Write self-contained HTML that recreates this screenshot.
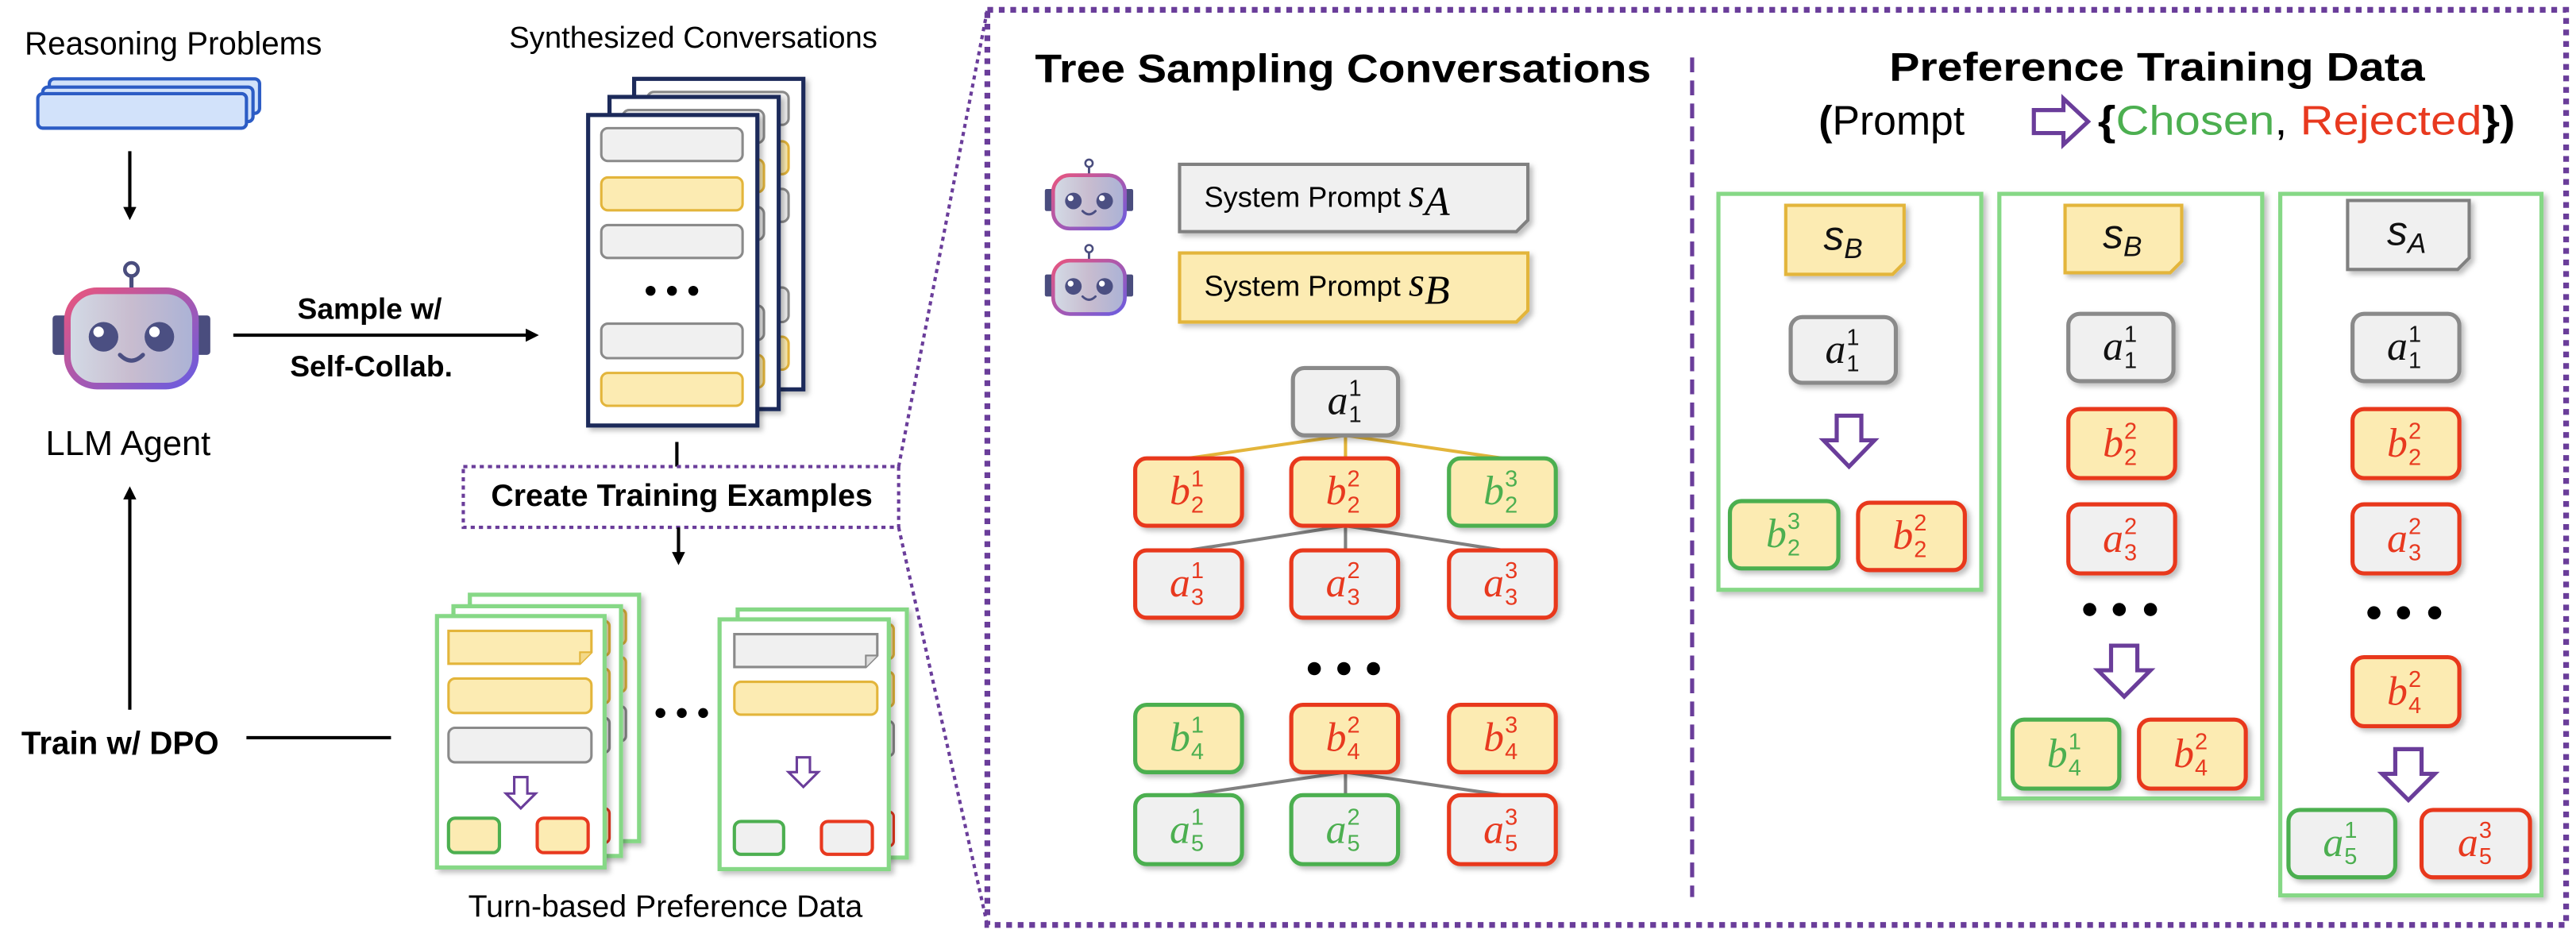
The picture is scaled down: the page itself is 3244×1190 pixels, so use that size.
<!DOCTYPE html>
<html><head><meta charset="utf-8"><style>
html,body{margin:0;padding:0;background:#fff;width:3244px;height:1190px;overflow:hidden}
svg{display:block}
text{font-family:"Liberation Sans",sans-serif}
.m{font-family:"Liberation Serif",serif;font-style:italic;font-size:25px}
.s{font-family:"Liberation Sans",sans-serif;font-size:14px}
</style></head><body>
<svg width="3244" height="1190" viewBox="0 0 1568 575.2" xmlns="http://www.w3.org/2000/svg">
<defs>
<filter id="sh" x="-20%" y="-20%" width="150%" height="150%"><feDropShadow dx="2" dy="2" stdDeviation="1.5" flood-color="#000" flood-opacity="0.25"/></filter>
<linearGradient id="fb" x1="0" x2="1" y1="0" y2="0"><stop offset="0" stop-color="#d3dbe6"/><stop offset="0.5" stop-color="#c8bccf"/><stop offset="1" stop-color="#aab2d6"/></linearGradient>
<linearGradient id="bb" x1="0" x2="1" y1="0" y2="1"><stop offset="0" stop-color="#e8557e"/><stop offset="1" stop-color="#6a5ce0"/></linearGradient>
<marker id="ah" markerWidth="8" markerHeight="8" refX="6" refY="4" orient="auto" markerUnits="userSpaceOnUse"><path d="M0,0 L8,4 L0,8 Z" fill="#000"/></marker>
<g id="robot">
<rect x="0" y="34" width="10" height="24" rx="2" fill="#4a4d7e"/>
<rect x="86" y="34" width="10" height="24" rx="2" fill="#4a4d7e"/>
<line x1="48" y1="10" x2="48" y2="19" stroke="#4a4d7e" stroke-width="2.5"/>
<circle cx="48" cy="6" r="4" fill="#fff" stroke="#4a4d7e" stroke-width="2.2"/>
<rect x="9" y="19" width="78" height="58" rx="18" fill="url(#fb)" stroke="url(#bb)" stroke-width="4"/>
<circle cx="31" cy="47" r="9" fill="#4b4f82"/><circle cx="28" cy="44" r="3.2" fill="#fff"/>
<circle cx="65" cy="47" r="9" fill="#4b4f82"/><circle cx="62" cy="44" r="3.2" fill="#fff"/>
<path d="M41,58 Q48,65 55,58" fill="none" stroke="#4b4f82" stroke-width="2.5" stroke-linecap="round"/>
</g>
</defs>

<!-- LEFT -->
<text x="15" y="33" font-size="19.5">Reasoning Problems</text>
<rect x="30" y="48" width="128" height="21" rx="3" fill="#d2e2fa" stroke="#2c5cc5" stroke-width="2"/>
<rect x="26" y="53" width="128" height="21" rx="3" fill="#d2e2fa" stroke="#2c5cc5" stroke-width="2"/>
<rect x="23" y="57" width="127" height="21" rx="3" fill="#d2e2fa" stroke="#2c5cc5" stroke-width="2"/>
<line x1="79" y1="92" x2="79" y2="132" stroke="#000" stroke-width="2" marker-end="url(#ah)"/>
<use href="#robot" transform="translate(32,158)"/>
<text x="78" y="277" font-size="21" text-anchor="middle">LLM Agent</text>
<line x1="79" y1="432" x2="79" y2="298" stroke="#000" stroke-width="2" marker-end="url(#ah)"/>
<text x="13" y="459" font-size="19.5" font-weight="bold">Train w/ DPO</text>
<line x1="150" y1="449" x2="238" y2="449" stroke="#000" stroke-width="2"/>
<text x="225" y="194" font-size="18" font-weight="bold" text-anchor="middle">Sample w/</text>
<text x="226" y="229" font-size="18" font-weight="bold" text-anchor="middle">Self-Collab.</text>
<line x1="142" y1="204" x2="326" y2="204" stroke="#000" stroke-width="2" marker-end="url(#ah)"/>
<text x="422" y="29" font-size="18.5" text-anchor="middle">Synthesized Conversations</text>

<!-- synth doc stack -->
<rect x="386" y="48" width="103" height="189" fill="#fff" stroke="#1c2a5a" stroke-width="2.5" filter="url(#sh)"/>
<g transform="translate(28,-22)">
<rect x="366" y="78" width="86" height="20" rx="4" fill="#f0f0f0" stroke="#8a8a8a" stroke-width="1.5"/>
<rect x="366" y="108" width="86" height="20" rx="4" fill="#fcebb2" stroke="#e3b53b" stroke-width="1.5"/>
<rect x="366" y="137" width="86" height="20" rx="4" fill="#f0f0f0" stroke="#8a8a8a" stroke-width="1.5"/>
<rect x="366" y="197" width="86" height="21" rx="4" fill="#f0f0f0" stroke="#8a8a8a" stroke-width="1.5"/>
<rect x="366" y="227" width="86" height="20" rx="4" fill="#fcebb2" stroke="#e3b53b" stroke-width="1.5"/>
</g>
<rect x="371" y="59" width="103" height="190" fill="#fff" stroke="#1c2a5a" stroke-width="2.5" filter="url(#sh)"/>
<g transform="translate(13,-11)">
<rect x="366" y="78" width="86" height="20" rx="4" fill="#f0f0f0" stroke="#8a8a8a" stroke-width="1.5"/>
<rect x="366" y="108" width="86" height="20" rx="4" fill="#fcebb2" stroke="#e3b53b" stroke-width="1.5"/>
<rect x="366" y="137" width="86" height="20" rx="4" fill="#f0f0f0" stroke="#8a8a8a" stroke-width="1.5"/>
<rect x="366" y="197" width="86" height="21" rx="4" fill="#f0f0f0" stroke="#8a8a8a" stroke-width="1.5"/>
<rect x="366" y="227" width="86" height="20" rx="4" fill="#fcebb2" stroke="#e3b53b" stroke-width="1.5"/>
</g>
<rect x="358" y="70" width="103" height="189" fill="#fff" stroke="#1c2a5a" stroke-width="2.5" filter="url(#sh)"/>
<rect x="366" y="78" width="86" height="20" rx="4" fill="#f0f0f0" stroke="#8a8a8a" stroke-width="1.5"/>
<rect x="366" y="108" width="86" height="20" rx="4" fill="#fcebb2" stroke="#e3b53b" stroke-width="1.5"/>
<rect x="366" y="137" width="86" height="20" rx="4" fill="#f0f0f0" stroke="#8a8a8a" stroke-width="1.5"/>
<circle cx="396" cy="177" r="3" fill="#000"/><circle cx="409" cy="177" r="3" fill="#000"/><circle cx="422" cy="177" r="3" fill="#000"/>
<rect x="366" y="197" width="86" height="21" rx="4" fill="#f0f0f0" stroke="#8a8a8a" stroke-width="1.5"/>
<rect x="366" y="227" width="86" height="20" rx="4" fill="#fcebb2" stroke="#e3b53b" stroke-width="1.5"/>

<line x1="412" y1="269" x2="412" y2="284" stroke="#000" stroke-width="2"/>
<rect x="282" y="284" width="265" height="37" fill="none" stroke="#6a3d9a" stroke-width="2" stroke-dasharray="2.5 2.5"/>
<text x="415" y="308" font-size="19" font-weight="bold" text-anchor="middle">Create Training Examples</text>
<line x1="413" y1="321" x2="413" y2="342" stroke="#000" stroke-width="2" marker-end="url(#ah)"/>

<!-- pref doc stack left -->
<rect x="286" y="362" width="103" height="150" fill="#fff" stroke="#86d886" stroke-width="2.5" filter="url(#sh)"/>
<rect x="367" y="371" width="14" height="21" rx="3" fill="#fcebb2" stroke="#e3b53b" stroke-width="1.5"/>
<rect x="367" y="400" width="14" height="21" rx="3" fill="#fcebb2" stroke="#e3b53b" stroke-width="1.5"/>
<rect x="367" y="430" width="14" height="21" rx="3" fill="#f0f0f0" stroke="#8a8a8a" stroke-width="1.5"/>
<rect x="276" y="369" width="102" height="152" fill="#fff" stroke="#86d886" stroke-width="2.5" filter="url(#sh)"/>
<rect x="357" y="378" width="14" height="21" rx="3" fill="#fcebb2" stroke="#e3b53b" stroke-width="1.5"/>
<rect x="357" y="407" width="14" height="21" rx="3" fill="#fcebb2" stroke="#e3b53b" stroke-width="1.5"/>
<rect x="357" y="437" width="14" height="21" rx="3" fill="#f0f0f0" stroke="#8a8a8a" stroke-width="1.5"/>
<rect x="357" y="492" width="14" height="21" rx="3" fill="#fcebb2" stroke="#e8391f" stroke-width="1.5"/>
<rect x="266" y="375" width="102" height="153" fill="#fff" stroke="#86d886" stroke-width="2.5" filter="url(#sh)"/>
<path d="M273,384 H360 V397 L353,404 H273 Z" fill="#fcebb2" stroke="#e3b53b" stroke-width="1.5"/>
<path d="M360,397 L353,397 L353,404" fill="#f3d98a" stroke="#e3b53b" stroke-width="1"/>
<rect x="273" y="413" width="87" height="21" rx="4" fill="#fcebb2" stroke="#e3b53b" stroke-width="1.5"/>
<rect x="273" y="443" width="87" height="21" rx="4" fill="#f0f0f0" stroke="#8a8a8a" stroke-width="1.5"/>
<path d="M313,473 H321 V483 H326 L317,492 L308,483 H313 Z" fill="#fff" stroke="#6a3d9a" stroke-width="1.5"/>
<rect x="273" y="498" width="31" height="21" rx="4" fill="#fcebb2" stroke="#4caf50" stroke-width="2"/>
<rect x="327" y="498" width="31" height="21" rx="4" fill="#fcebb2" stroke="#e8391f" stroke-width="2"/>

<circle cx="402" cy="434" r="3" fill="#000"/><circle cx="415" cy="434" r="3" fill="#000"/><circle cx="428" cy="434" r="3" fill="#000"/>

<!-- pref doc stack right -->
<rect x="449" y="371" width="103" height="151" fill="#fff" stroke="#86d886" stroke-width="2.5" filter="url(#sh)"/>
<rect x="530" y="380" width="14" height="21" rx="3" fill="#fcebb2" stroke="#e3b53b" stroke-width="1.5"/>
<rect x="530" y="409" width="14" height="21" rx="3" fill="#fcebb2" stroke="#e3b53b" stroke-width="1.5"/>
<rect x="530" y="439" width="14" height="21" rx="3" fill="#f0f0f0" stroke="#8a8a8a" stroke-width="1.5"/>
<rect x="530" y="494" width="14" height="21" rx="3" fill="#f0f0f0" stroke="#e8391f" stroke-width="1.5"/>
<rect x="438" y="377" width="103" height="152" fill="#fff" stroke="#86d886" stroke-width="2.5" filter="url(#sh)"/>
<path d="M447,386 H534 V399 L527,406 H447 Z" fill="#f0f0f0" stroke="#8a8a8a" stroke-width="1.5"/>
<path d="M534,399 L527,399 L527,406" fill="#ddd" stroke="#8a8a8a" stroke-width="1"/>
<rect x="447" y="415" width="87" height="20" rx="4" fill="#fcebb2" stroke="#e3b53b" stroke-width="1.5"/>
<path d="M485,461 H493 V470 H498 L489,479 L480,470 H485 Z" fill="#fff" stroke="#6a3d9a" stroke-width="1.5"/>
<rect x="447" y="500" width="30" height="20" rx="4" fill="#f0f0f0" stroke="#4caf50" stroke-width="2"/>
<rect x="500" y="500" width="31" height="20" rx="4" fill="#f0f0f0" stroke="#e8391f" stroke-width="2"/>

<text x="405" y="558" font-size="19" text-anchor="middle">Turn-based Preference Data</text>

<!-- connecting dotted lines -->
<line x1="547" y1="284" x2="601" y2="6" stroke="#6a3d9a" stroke-width="2" stroke-dasharray="2.5 2.5"/>
<line x1="547" y1="321" x2="601" y2="563" stroke="#6a3d9a" stroke-width="2" stroke-dasharray="2.5 2.5"/>

<!-- big dotted box -->
<rect x="601" y="6" width="961" height="557" fill="none" stroke="#6a3d9a" stroke-width="3.5" stroke-dasharray="3.5 3.5"/>
<line x1="1030" y1="35" x2="1030" y2="546" stroke="#6a3d9a" stroke-width="2.5" stroke-dasharray="9 5"/>

<!-- TREE -->
<text x="630" y="50" font-size="24" font-weight="bold" textLength="375" lengthAdjust="spacingAndGlyphs">Tree Sampling Conversations</text>
<use href="#robot" transform="translate(636,96) scale(0.56)"/>
<use href="#robot" transform="translate(636,148) scale(0.56)"/>
<g filter="url(#sh)">
<path d="M718,100 H930 V134 L923,141 H718 Z" fill="#f0f0f0" stroke="#808080" stroke-width="2"/>
<path d="M718,154 H930 V189 L923,196 H718 Z" fill="#fcebb2" stroke="#e3b53b" stroke-width="2"/>
</g>
<text x="733" y="126" font-size="17.5">System Prompt <tspan class="m" font-size="21">s</tspan><tspan class="m" font-size="15" dy="5">A</tspan></text>
<text x="733" y="180" font-size="17.5">System Prompt <tspan class="m" font-size="21">s</tspan><tspan class="m" font-size="15" dy="5">B</tspan></text>

<g stroke="#e3b53b" stroke-width="2">
<line x1="819" y1="265" x2="723" y2="279"/><line x1="819" y1="265" x2="819" y2="279"/><line x1="819" y1="265" x2="915" y2="279"/>
</g>
<g stroke="#808080" stroke-width="2">
<line x1="819" y1="320" x2="723" y2="335"/><line x1="819" y1="320" x2="819" y2="335"/><line x1="819" y1="320" x2="915" y2="335"/>
<line x1="819" y1="470" x2="723" y2="484"/><line x1="819" y1="470" x2="819" y2="484"/><line x1="819" y1="470" x2="915" y2="484"/>
</g>

<g filter="url(#sh)" stroke-width="2.5">
<rect x="787" y="224" width="64" height="41" rx="7" fill="#f0f0f0" stroke="#8a8a8a"/>
<rect x="691" y="279" width="65" height="41" rx="7" fill="#fcebb2" stroke="#e8391f"/>
<rect x="786" y="279" width="65" height="41" rx="7" fill="#fcebb2" stroke="#e8391f"/>
<rect x="882" y="279" width="65" height="41" rx="7" fill="#fcebb2" stroke="#4caf50"/>
<rect x="691" y="335" width="65" height="41" rx="7" fill="#f0f0f0" stroke="#e8391f"/>
<rect x="786" y="335" width="65" height="41" rx="7" fill="#f0f0f0" stroke="#e8391f"/>
<rect x="882" y="335" width="65" height="41" rx="7" fill="#f0f0f0" stroke="#e8391f"/>
<rect x="691" y="429" width="65" height="41" rx="7" fill="#fcebb2" stroke="#4caf50"/>
<rect x="786" y="429" width="65" height="41" rx="7" fill="#fcebb2" stroke="#e8391f"/>
<rect x="882" y="429" width="65" height="41" rx="7" fill="#fcebb2" stroke="#e8391f"/>
<rect x="691" y="484" width="65" height="42" rx="7" fill="#f0f0f0" stroke="#4caf50"/>
<rect x="786" y="484" width="65" height="42" rx="7" fill="#f0f0f0" stroke="#4caf50"/>
<rect x="882" y="484" width="65" height="42" rx="7" fill="#f0f0f0" stroke="#e8391f"/>
</g>
<circle cx="800" cy="407" r="4" fill="#000"/><circle cx="818" cy="407" r="4" fill="#000"/><circle cx="836" cy="407" r="4" fill="#000"/>

<!-- tree labels -->
<g fill="#111"><text class="m" x="808" y="252">a</text><text class="s" x="821" y="241">1</text><text class="s" x="821" y="257">1</text></g>
<g fill="#e8391f"><text class="m" x="712" y="307">b</text><text class="s" x="725" y="296">1</text><text class="s" x="725" y="312">2</text></g>
<g fill="#e8391f"><text class="m" x="807" y="307">b</text><text class="s" x="820" y="296">2</text><text class="s" x="820" y="312">2</text></g>
<g fill="#4caf50"><text class="m" x="903" y="307">b</text><text class="s" x="916" y="296">3</text><text class="s" x="916" y="312">2</text></g>
<g fill="#e8391f"><text class="m" x="712" y="363">a</text><text class="s" x="725" y="352">1</text><text class="s" x="725" y="368">3</text></g>
<g fill="#e8391f"><text class="m" x="807" y="363">a</text><text class="s" x="820" y="352">2</text><text class="s" x="820" y="368">3</text></g>
<g fill="#e8391f"><text class="m" x="903" y="363">a</text><text class="s" x="916" y="352">3</text><text class="s" x="916" y="368">3</text></g>
<g fill="#4caf50"><text class="m" x="712" y="457">b</text><text class="s" x="725" y="446">1</text><text class="s" x="725" y="462">4</text></g>
<g fill="#e8391f"><text class="m" x="807" y="457">b</text><text class="s" x="820" y="446">2</text><text class="s" x="820" y="462">4</text></g>
<g fill="#e8391f"><text class="m" x="903" y="457">b</text><text class="s" x="916" y="446">3</text><text class="s" x="916" y="462">4</text></g>
<g fill="#4caf50"><text class="m" x="712" y="513">a</text><text class="s" x="725" y="502">1</text><text class="s" x="725" y="518">5</text></g>
<g fill="#4caf50"><text class="m" x="807" y="513">a</text><text class="s" x="820" y="502">2</text><text class="s" x="820" y="518">5</text></g>
<g fill="#e8391f"><text class="m" x="903" y="513">a</text><text class="s" x="916" y="502">3</text><text class="s" x="916" y="518">5</text></g>

<!-- PREFERENCE -->
<text x="1150" y="49" font-size="24" font-weight="bold" textLength="326" lengthAdjust="spacingAndGlyphs">Preference Training Data</text>
<text x="1107" y="82" font-size="25"><tspan font-weight="bold">(</tspan>Prompt</text>
<path d="M1238,67 H1256 V60 L1271,74 L1256,88 V81 H1238 Z" fill="#fff" stroke="#6a3d9a" stroke-width="2.5" stroke-linejoin="miter"/>
<text x="1277" y="82" font-size="25" textLength="254" lengthAdjust="spacingAndGlyphs"><tspan font-weight="bold">{</tspan><tspan fill="#4caf50">Chosen</tspan>, <tspan fill="#e8391f">Rejected</tspan><tspan font-weight="bold">})</tspan></text>

<g filter="url(#sh)" fill="#fff" stroke="#86d886" stroke-width="2.5">
<rect x="1046" y="118" width="160" height="241"/>
<rect x="1217" y="118" width="160" height="368"/>
<rect x="1388" y="118" width="159" height="427"/>
</g>
<g filter="url(#sh)">
<path d="M1087,125 H1159 V160 L1152,167 H1087 Z" fill="#fcebb2" stroke="#e3b53b" stroke-width="2"/>
<path d="M1257,125 H1328 V159 L1321,166 H1257 Z" fill="#fcebb2" stroke="#e3b53b" stroke-width="2"/>
<path d="M1429,122 H1503 V157 L1496,164 H1429 Z" fill="#f0f0f0" stroke="#808080" stroke-width="2"/>
</g>
<g font-family="Liberation Serif,serif" font-style="italic" fill="#111">
<text x="1110" y="152" font-size="25">s<tspan font-size="17" dy="5">B</tspan></text>
<text x="1280" y="151" font-size="25">s<tspan font-size="17" dy="5">B</tspan></text>
<text x="1453" y="149" font-size="25">s<tspan font-size="17" dy="5">A</tspan></text>
</g>

<g filter="url(#sh)" stroke-width="2.5">
<rect x="1090" y="193" width="64" height="40" rx="7" fill="#f0f0f0" stroke="#8a8a8a"/>
<rect x="1053" y="305" width="66" height="41" rx="7" fill="#fcebb2" stroke="#4caf50"/>
<rect x="1131" y="306" width="65" height="41" rx="7" fill="#fcebb2" stroke="#e8391f"/>
<rect x="1259" y="191" width="64" height="41" rx="7" fill="#f0f0f0" stroke="#8a8a8a"/>
<rect x="1259" y="249" width="65" height="42" rx="7" fill="#fcebb2" stroke="#e8391f"/>
<rect x="1259" y="307" width="65" height="42" rx="7" fill="#f0f0f0" stroke="#e8391f"/>
<rect x="1225" y="438" width="65" height="42" rx="7" fill="#fcebb2" stroke="#4caf50"/>
<rect x="1302" y="438" width="65" height="42" rx="7" fill="#fcebb2" stroke="#e8391f"/>
<rect x="1432" y="191" width="65" height="41" rx="7" fill="#f0f0f0" stroke="#8a8a8a"/>
<rect x="1432" y="249" width="65" height="42" rx="7" fill="#fcebb2" stroke="#e8391f"/>
<rect x="1432" y="307" width="65" height="42" rx="7" fill="#f0f0f0" stroke="#e8391f"/>
<rect x="1432" y="400" width="65" height="42" rx="7" fill="#fcebb2" stroke="#e8391f"/>
<rect x="1393" y="493" width="65" height="41" rx="7" fill="#f0f0f0" stroke="#4caf50"/>
<rect x="1474" y="493" width="66" height="41" rx="7" fill="#f0f0f0" stroke="#e8391f"/>
</g>
<g fill="#fff" stroke="#6a3d9a" stroke-width="2.5">
<path d="M1118,253 H1133 V268 H1141 L1125.5,284 L1110,268 H1118 Z"/>
<path d="M1285,393 H1301 V408 H1309 L1293,424 L1277,408 H1285 Z"/>
<path d="M1458,456 H1474 V471 H1482 L1466,487 L1450,471 H1458 Z"/>
</g>
<circle cx="1272" cy="371" r="4" fill="#000"/><circle cx="1290" cy="371" r="4" fill="#000"/><circle cx="1309" cy="371" r="4" fill="#000"/>
<circle cx="1445" cy="373" r="4" fill="#000"/><circle cx="1463" cy="373" r="4" fill="#000"/><circle cx="1482" cy="373" r="4" fill="#000"/>

<g fill="#111"><text class="m" x="1111" y="221">a</text><text class="s" x="1124" y="210">1</text><text class="s" x="1124" y="226">1</text></g>
<g fill="#4caf50"><text class="m" x="1075" y="333">b</text><text class="s" x="1088" y="322">3</text><text class="s" x="1088" y="338">2</text></g>
<g fill="#e8391f"><text class="m" x="1152" y="334">b</text><text class="s" x="1165" y="323">2</text><text class="s" x="1165" y="339">2</text></g>
<g fill="#111"><text class="m" x="1280" y="219">a</text><text class="s" x="1293" y="208">1</text><text class="s" x="1293" y="224">1</text></g>
<g fill="#e8391f"><text class="m" x="1280" y="278">b</text><text class="s" x="1293" y="267">2</text><text class="s" x="1293" y="283">2</text></g>
<g fill="#e8391f"><text class="m" x="1280" y="336">a</text><text class="s" x="1293" y="325">2</text><text class="s" x="1293" y="341">3</text></g>
<g fill="#4caf50"><text class="m" x="1246" y="467">b</text><text class="s" x="1259" y="456">1</text><text class="s" x="1259" y="472">4</text></g>
<g fill="#e8391f"><text class="m" x="1323" y="467">b</text><text class="s" x="1336" y="456">2</text><text class="s" x="1336" y="472">4</text></g>
<g fill="#111"><text class="m" x="1453" y="219">a</text><text class="s" x="1466" y="208">1</text><text class="s" x="1466" y="224">1</text></g>
<g fill="#e8391f"><text class="m" x="1453" y="278">b</text><text class="s" x="1466" y="267">2</text><text class="s" x="1466" y="283">2</text></g>
<g fill="#e8391f"><text class="m" x="1453" y="336">a</text><text class="s" x="1466" y="325">2</text><text class="s" x="1466" y="341">3</text></g>
<g fill="#e8391f"><text class="m" x="1453" y="429">b</text><text class="s" x="1466" y="418">2</text><text class="s" x="1466" y="434">4</text></g>
<g fill="#4caf50"><text class="m" x="1414" y="521">a</text><text class="s" x="1427" y="510">1</text><text class="s" x="1427" y="526">5</text></g>
<g fill="#e8391f"><text class="m" x="1496" y="521">a</text><text class="s" x="1509" y="510">3</text><text class="s" x="1509" y="526">5</text></g>
</svg>
</body></html>
